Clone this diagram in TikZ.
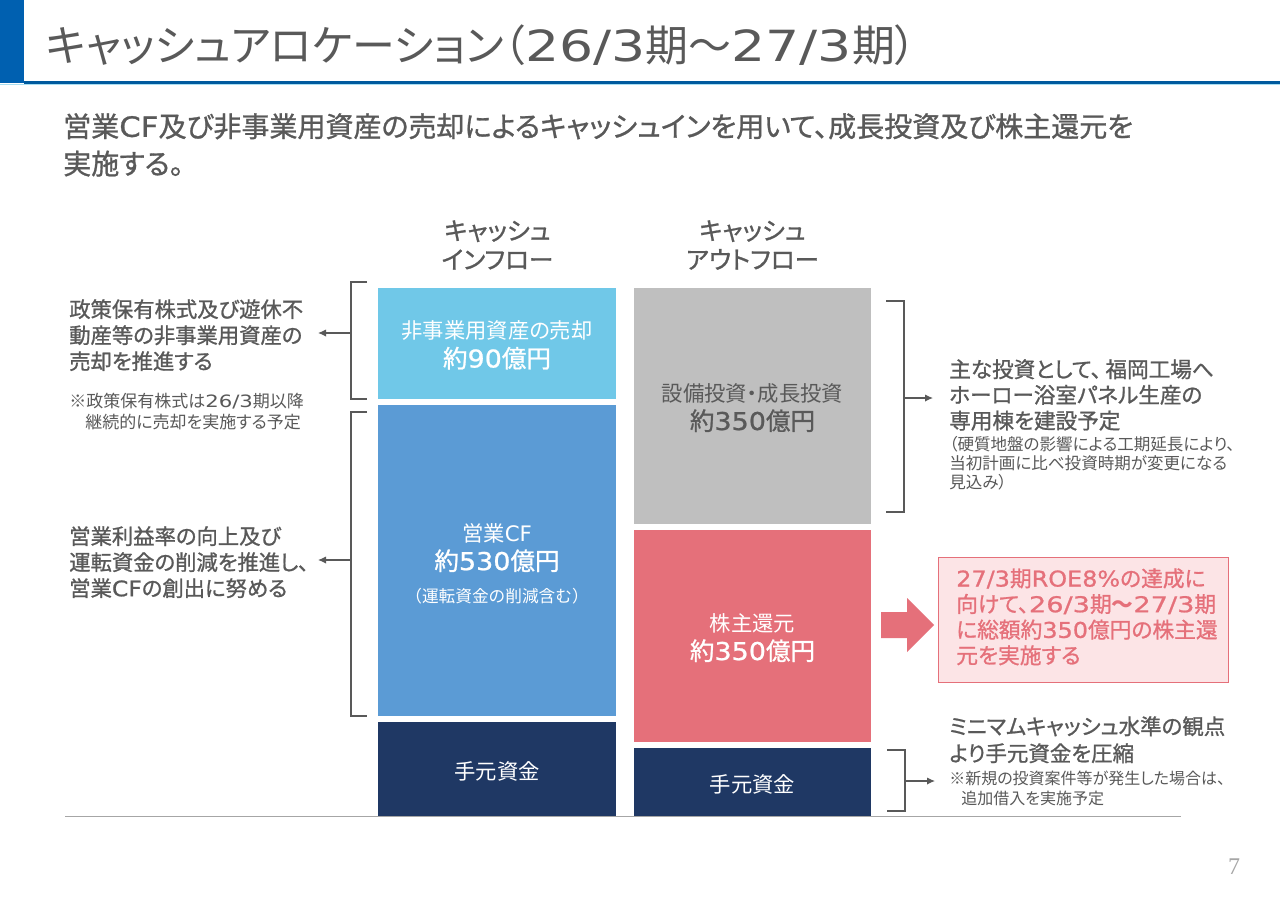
\documentclass[tikz,border=0pt]{standalone}
\usepackage{fontspec}
\setmainfont{Noto Sans CJK JP}[RawFeature=+palt,BoldFont={Noto Sans CJK JP},BoldFeatures={FakeBold=1.0}]
\newfontfamily\fwid{Noto Sans CJK JP}
\newfontfamily\dgf{DejaVu Sans}[BoldFont={DejaVu Sans},BoldFeatures={FakeBold=0.9,FakeStretch=1.1}]
\newfontfamily\dgwf{DejaVu Sans}[FakeStretch=1.25,BoldFont={DejaVu Sans},BoldFeatures={FakeBold=0.9,FakeStretch=1.25}]
\newcommand{\dgt}[1]{{\dgf #1}}
\newcommand{\dgw}[1]{{\dgwf #1}}
\newcommand{\lparz}{\char"FF08\relax}
\newcommand{\rparz}{\char"FF09\relax}
\newcommand{\tildz}{\char"FF5E\relax}
\newfontfamily\numfont{Liberation Serif}
\usetikzlibrary{arrows.meta}
\definecolor{txt}{HTML}{595959}
\definecolor{brk}{HTML}{595959}
\definecolor{barblue}{HTML}{0060B0}
\definecolor{linblue}{HTML}{005A9E}
\definecolor{ltblue}{HTML}{70C8E8}
\definecolor{midblue}{HTML}{5B9BD5}
\definecolor{navy}{HTML}{1F3864}
\definecolor{grayb}{HTML}{BFBFBF}
\definecolor{redb}{HTML}{E5707A}
\definecolor{pinkb}{HTML}{FCE4E6}
\newcommand{\fpx}[2]{\fontsize{#1}{#2}\selectfont}
\newcommand{\lift}[1]{\rule{0pt}{#1pt}}
\tikzset{
  x=0.75pt,y=-0.75pt,
  block/.style={rectangle,inner sep=0pt,align=center,font=\fpx{16}{21.5}},
  lbl/.style={inner sep=0pt,anchor=north west,align=left,text=txt},
  head/.style={inner sep=0pt,align=center,text=txt,font=\bfseries\fpx{18.5}{21.75}},
  brace/.style={draw=brk,line width=1.4pt,line cap=butt,line join=miter},
  conn/.style={draw=brk,line width=0.9pt,-{Latex[length=6pt,width=5.5pt]}},
}
\begin{document}
\begin{tikzpicture}
\useasboundingbox (0,0) rectangle (1280,904);
\fill[white] (0,0) rectangle (1280,904);
% header
\fill[barblue] (0,0) rectangle (24,83);
\fill[linblue] (24,81) rectangle (1280,84);
\fill[ltblue!60] (0,84) rectangle (1280,85);
\node[inner sep=0pt,anchor=west,text=txt,font=\fpx{32.2}{38}] (title) at (46,45) {キャッシュアロケーション\lparz\dgw{26/3}期{\fwid\tildz}\dgw{27/3}期\rparz};
\node[lbl,font=\bfseries\fpx{21}{28}] (lead) at (63,113) {営業\dgt{CF}及び非事業用資産の売却によるキャッシュインを用いて、成長投資及び株主還元を\\実施する。};
% column heads
\node[head] (hin) at (497.5,245) {キャッシュ\\インフロー};
\node[head] (hout) at (752.5,245) {キャッシュ\\アウトフロー};
% blocks
\node[block,fill=ltblue,text=white,minimum width=178.5pt,minimum height=83.25pt] (b1) at (497,343.5) {\lift{16}非事業用資産の売却\\{\bfseries\fpx{18.4}{21.5}約\dgt{90}億円}};
\node[block,fill=midblue,text=white,minimum width=178.5pt,minimum height=233.25pt] (b2) at (497,560.5) {\lift{18.5}営業\dgt{CF}\\{\bfseries\fpx{18.4}{23}約\dgt{530}億円}\\[3pt]{\fwid\fpx{12.5}{16}\lparz 運転資金の削減含む\rparz}};
\node[block,fill=navy,text=white,minimum width=178.5pt,minimum height=70.5pt] (b3) at (497,769) {\lift{17}手元資金};
\node[block,fill=grayb,text=txt,minimum width=177.75pt,minimum height=177pt] (c1) at (752.5,406) {\lift{16}設備投資・成長投資\\{\bfseries\fpx{18.4}{21}約\dgt{350}億円}};
\node[block,fill=redb,text=white,minimum width=177.75pt,minimum height=159pt] (c2) at (752.5,636) {\lift{16}株主還元\\{\bfseries\fpx{18.4}{21}約\dgt{350}億円}};
\node[block,fill=navy,text=white,minimum width=177.75pt,minimum height=51pt] (c3) at (752.5,782) {\lift{17}手元資金};
% baseline
\coordinate (bl) at (65,816);
\coordinate (br) at (1181,816);
\draw[draw=gray!70,line width=0.75pt] (bl) -- (br);
% brackets
\draw[brace] (367,282) -- (351,282) -- (351,399) -- (367,399);
\draw[brace] (367,412) -- (351,412) -- (351,716) -- (367,716);
\draw[brace] (886,301) -- (904,301) -- (904,512) -- (886,512);
\draw[brace] (887,750) -- (905,750) -- (905,811) -- (887,811);
% left labels
\node[lbl,font=\bfseries\fpx{16}{19.5}] (l1) at (69,299) {政策保有株式及び遊休不\\動産等の非事業用資産の\\売却を推進する};
\node[lbl,font=\fpx{12.75}{15.75}] (l2) at (69,393) {※政策保有株式は\dgw{26/3}期以降\\\hspace*{12pt}継続的に売却を実施する予定};
\node[lbl,font=\bfseries\fpx{16}{19.5}] (l3) at (69,526) {営業利益率の向上及び\\運転資金の削減を推進し、\\営業\dgt{CF}の創出に努める};
% right labels
\node[lbl,font=\bfseries\fpx{16.2}{19.25}] (r1) at (949,359) {主な投資として、\hspace{3pt}福岡工場へ\\ホーロー浴室パネル生産の\\専用棟を建設予定};
\node[lbl,font=\fpx{12.4}{14.25}] (r2) at (949,436) {\lparz 硬質地盤の影響による工期延長により、\\当初計画に比べ投資時期が変更になる\\見込み\rparz};
\node[lbl,font=\bfseries\fpx{16.1}{20.25}] (r3) at (949,716) {ミニマムキャッシュ水準の観点\\より手元資金を圧縮};
\node[lbl,font=\fpx{12}{15}] (r4) at (949,771) {※新規の投資案件等が発生した場合は、\\\hspace*{9pt}追加借入を実施予定};
% pink box
\node[rectangle,draw=redb,line width=0.7pt,fill=pinkb,inner sep=0pt,minimum width=217.5pt,minimum height=93.75pt,text=redb] (pb) at (1083,619.5) {};
\node[lbl,text=redb,font=\bfseries\fpx{16.3}{19.25}] (pt) at (956,568) {\dgt{27/3}期\dgt{ROE8\%}の達成に\\向けて、\dgw{26/3}期{\fwid\tildz}\dgw{27/3}期\\に総額約\dgt{350}億円の株主還\\元を実施する};
% big arrow
\fill[redb] (881,612) -- (907,612) -- (907,598) -- (934,625) -- (907,652) -- (907,638) -- (881,638) -- cycle;
% small arrows
\coordinate (a1) at (351,333);
\coordinate (a1e) at (318,333);
\coordinate (a2) at (351,560);
\coordinate (a2e) at (318,560);
\coordinate (a3) at (904,398);
\coordinate (a3e) at (933,398);
\coordinate (a4) at (905,781);
\coordinate (a4e) at (935,781);
\draw[conn] (a1) -- (a1e);
\draw[conn] (a2) -- (a2e);
\draw[conn] (a3) -- (a3e);
\draw[conn] (a4) -- (a4e);
% page number
\node[inner sep=0pt,text=gray!70,font=\numfont\fpx{18}{20}] (pg) at (1234,867) {7};
\end{tikzpicture}
\end{document}
